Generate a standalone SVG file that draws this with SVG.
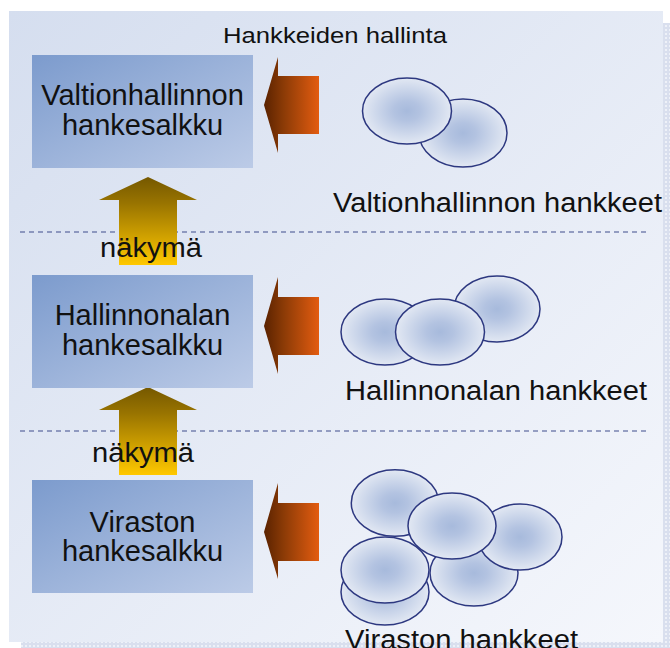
<svg xmlns="http://www.w3.org/2000/svg" width="670" height="648" viewBox="0 0 670 648">
<defs>
<linearGradient id="panel" x1="0" y1="0" x2="1" y2="1">
<stop offset="0" stop-color="#d5deef"/>
<stop offset="1" stop-color="#f5f7fc"/>
</linearGradient>
<pattern id="dots" width="4" height="4" patternUnits="userSpaceOnUse">
<rect width="4" height="4" fill="#d9dfee"/>
<rect x="1" y="1" width="2" height="2" fill="#eef1f8"/>
</pattern>
<linearGradient id="box" x1="0" y1="0" x2="1" y2="1">
<stop offset="0" stop-color="#7c9bcd"/>
<stop offset="1" stop-color="#bccbe7"/>
</linearGradient>
<linearGradient id="orange" x1="0" y1="0" x2="1" y2="0">
<stop offset="0" stop-color="#5a2200"/>
<stop offset="0.35" stop-color="#8a3a06"/>
<stop offset="1" stop-color="#e35c10"/>
</linearGradient>
<linearGradient id="yellow" x1="0" y1="0" x2="0" y2="1">
<stop offset="0" stop-color="#755800"/>
<stop offset="0.3" stop-color="#997400"/>
<stop offset="1" stop-color="#ffc800"/>
</linearGradient>
<radialGradient id="ell" cx="0.5" cy="0.5" r="0.5">
<stop offset="0" stop-color="#a7badc"/>
<stop offset="0.3" stop-color="#b3c3e1"/>
<stop offset="1" stop-color="#e2e8f3"/>
</radialGradient>
<style>
.t{font-family:"Liberation Sans",Arial,sans-serif;fill:#111;}
.e{fill:url(#ell);stroke:#2d3880;stroke-width:1.5;}
.dash{stroke:#3f4c8c;stroke-width:1.2;stroke-dasharray:5 4;fill:none;}
</style>
</defs>
<rect x="21" y="23" width="654" height="631" fill="url(#dots)"/>
<rect x="9" y="11" width="654" height="631" fill="url(#panel)"/>
<text class="t" x="223" y="43" font-size="22" textLength="224" lengthAdjust="spacingAndGlyphs">Hankkeiden hallinta</text>
<g id="connectors">
<line class="dash" x1="20" y1="232" x2="650" y2="232"/>
<line class="dash" x1="20" y1="431" x2="648" y2="431"/>
<polygon fill="url(#orange)" points="264,105 278,57 278,76 319,76 319,134 278,134 278,153"/>
<polygon fill="url(#orange)" points="264,326 278,277 278,297 319,297 319,355 278,355 278,374"/>
<polygon fill="url(#orange)" points="264,532 278,483 278,503 319,503 319,561 278,561 278,579"/>
<polygon fill="url(#yellow)" points="148,177 197,200 177,200 177,265 119,265 119,200 99,200"/>
<polygon fill="url(#yellow)" points="148,387 197,410 177,410 177,475 119,475 119,410 99,410"/>
<text class="t" x="100" y="257" font-size="27" textLength="102" lengthAdjust="spacingAndGlyphs">näkymä</text>
<text class="t" x="92" y="462" font-size="27" textLength="102" lengthAdjust="spacingAndGlyphs">näkymä</text>
</g>
<g id="box1">
<rect x="32" y="55" width="221" height="113" fill="url(#box)"/>
<text class="t" x="142.5" y="105" font-size="29" text-anchor="middle">Valtionhallinnon</text>
<text class="t" x="142.5" y="135" font-size="29" text-anchor="middle">hankesalkku</text>
</g>
<g id="box2">
<rect x="32" y="275" width="221" height="113" fill="url(#box)"/>
<text class="t" x="142.5" y="325" font-size="29" text-anchor="middle">Hallinnonalan</text>
<text class="t" x="142.5" y="355" font-size="29" text-anchor="middle">hankesalkku</text>
</g>
<g id="box3">
<rect x="32" y="480" width="221" height="113" fill="url(#box)"/>
<text class="t" x="142.5" y="532" font-size="29" text-anchor="middle">Viraston</text>
<text class="t" x="142.5" y="561" font-size="29" text-anchor="middle">hankesalkku</text>
</g>
<g id="projects1">
<ellipse class="e" cx="463" cy="133" rx="44" ry="34"/>
<ellipse class="e" cx="407" cy="111" rx="44.5" ry="33"/>
<text class="t" x="333" y="212" font-size="27" textLength="329" lengthAdjust="spacingAndGlyphs">Valtionhallinnon hankkeet</text>
</g>
<g id="projects2">
<ellipse class="e" cx="497" cy="309" rx="43" ry="33"/>
<ellipse class="e" cx="385" cy="332" rx="44" ry="33"/>
<ellipse class="e" cx="440" cy="332" rx="44.5" ry="33"/>
<text class="t" x="345" y="400" font-size="27" textLength="302" lengthAdjust="spacingAndGlyphs">Hallinnonalan hankkeet</text>
</g>
<g id="projects3">
<ellipse class="e" cx="395" cy="503" rx="43.7" ry="33.3"/>
<ellipse class="e" cx="474" cy="573" rx="44" ry="33"/>
<ellipse class="e" cx="520" cy="537" rx="42" ry="33"/>
<ellipse class="e" cx="452" cy="526" rx="44" ry="33"/>
<ellipse class="e" cx="385" cy="592" rx="44" ry="33"/>
<ellipse class="e" cx="385" cy="570" rx="44" ry="33"/>
<text class="t" x="345" y="649" font-size="27" textLength="233" lengthAdjust="spacingAndGlyphs">Viraston hankkeet</text>
</g>
</svg>
